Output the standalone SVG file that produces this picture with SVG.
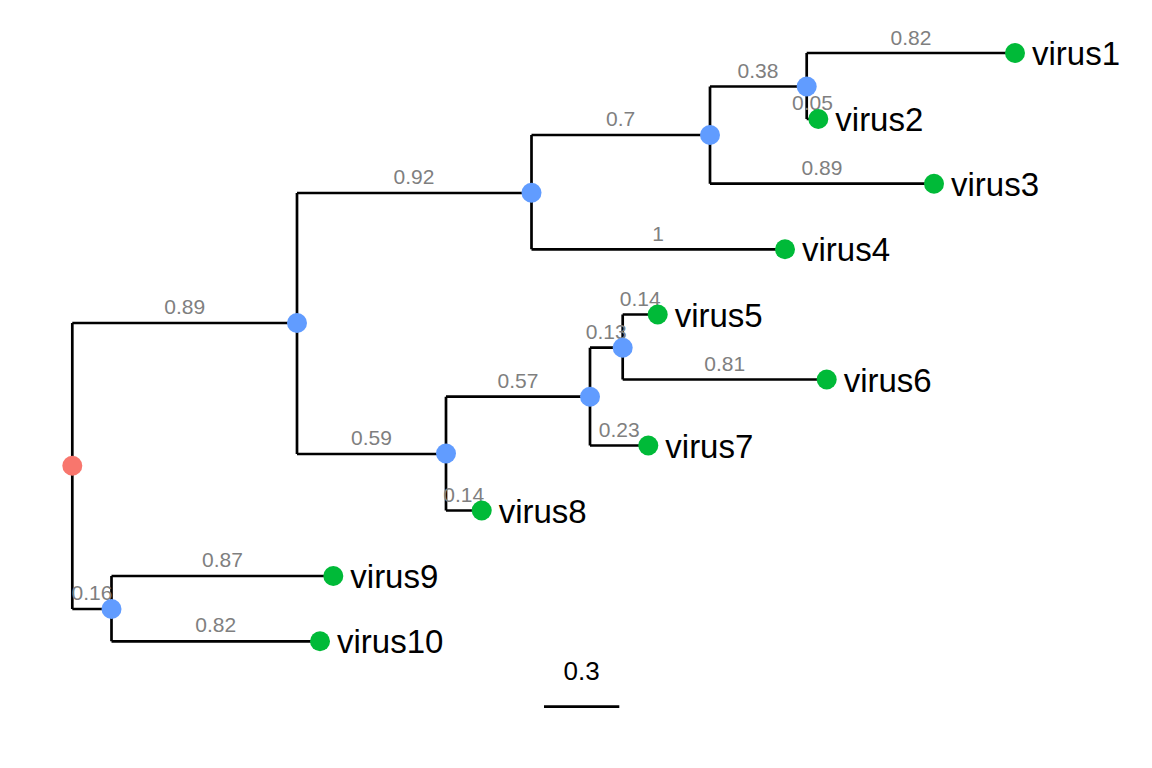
<svg xmlns="http://www.w3.org/2000/svg" width="1152" height="768" viewBox="0 0 1152 768">
<style>
.br{fill:none;stroke:#000;stroke-width:2.7;stroke-linecap:butt;stroke-linejoin:miter}
.el{font-family:"Liberation Sans",Arial,sans-serif;font-size:21px;fill:#7f7f7f;text-anchor:middle}
.tl{font-family:"Liberation Sans",Arial,sans-serif;font-size:33px;fill:#000}
.root{fill:#F8766D}
.inner{fill:#619CFF}
.tip{fill:#00BA38}
</style>
<rect width="1152" height="768" fill="#fff"/>
<g id="connectors">
<path class="br" d="M72.3,323 V609 M72.3,323 H297 M72.3,609 H111.5"/>
<path class="br" d="M297,193 V454 M297,193 H531.5 M297,454 H446"/>
<path class="br" d="M531.5,135 V249.3 M531.5,135 H710 M531.5,249.3 H785"/>
<path class="br" d="M710,86.5 V183.7 M710,86.5 H806.7 M710,183.7 H934"/>
<path class="br" d="M806.7,53 V119 M806.7,53 H1015 M806.7,119 H818.3"/>
<path class="br" d="M446,396.7 V510.5 M446,396.7 H590 M446,510.5 H481.7"/>
<path class="br" d="M590,347.7 V445.5 M590,347.7 H622.7 M590,445.5 H648.3"/>
<path class="br" d="M622.7,314.5 V379.5 M622.7,314.5 H657.7 M622.7,379.5 H826.7"/>
<path class="br" d="M111.5,576 V641.3 M111.5,576 H333.3 M111.5,641.3 H320"/>
</g>
<g id="edge-labels">
<text class="el" x="184.7" y="314">0.89</text>
<text class="el" x="414" y="184">0.92</text>
<text class="el" x="620.7" y="126">0.7</text>
<text class="el" x="758" y="77.5">0.38</text>
<text class="el" x="911" y="44.5">0.82</text>
<text class="el" x="812.5" y="110">0.05</text>
<text class="el" x="822" y="175">0.89</text>
<text class="el" x="658" y="240.5">1</text>
<text class="el" x="371.5" y="445">0.59</text>
<text class="el" x="518" y="388">0.57</text>
<text class="el" x="606.3" y="339">0.13</text>
<text class="el" x="640.2" y="305.5">0.14</text>
<text class="el" x="724.7" y="370.5">0.81</text>
<text class="el" x="619.2" y="436.5">0.23</text>
<text class="el" x="463.8" y="501.5">0.14</text>
<text class="el" x="91.9" y="600">0.16</text>
<text class="el" x="222.4" y="567">0.87</text>
<text class="el" x="215.7" y="632.3">0.82</text>
</g>
<g id="root"><circle class="root" cx="72.3" cy="465.7" r="10"/></g>
<g id="n1"><circle class="inner" cx="297" cy="323" r="10"/></g>
<g id="n2"><circle class="inner" cx="531.5" cy="192.7" r="10"/></g>
<g id="n3"><circle class="inner" cx="710" cy="135" r="10"/></g>
<g id="n4"><circle class="inner" cx="806.7" cy="86.5" r="10"/></g>
<g id="n5"><circle class="inner" cx="446" cy="453.5" r="10"/></g>
<g id="n6"><circle class="inner" cx="590" cy="396.7" r="10"/></g>
<g id="n7"><circle class="inner" cx="622.7" cy="347.7" r="10"/></g>
<g id="n8"><circle class="inner" cx="111.5" cy="609" r="10"/></g>
<g id="virus1"><circle class="tip" cx="1015" cy="53" r="10"/><text class="tl" x="1032" y="65">virus1</text></g>
<g id="virus2"><circle class="tip" cx="818.3" cy="119" r="10"/><text class="tl" x="835.3" y="131">virus2</text></g>
<g id="virus3"><circle class="tip" cx="934" cy="183.7" r="10"/><text class="tl" x="951" y="195.7">virus3</text></g>
<g id="virus4"><circle class="tip" cx="785" cy="249.3" r="10"/><text class="tl" x="802" y="261.3">virus4</text></g>
<g id="virus5"><circle class="tip" cx="657.7" cy="314.5" r="10"/><text class="tl" x="674.7" y="326.5">virus5</text></g>
<g id="virus6"><circle class="tip" cx="826.7" cy="379.5" r="10"/><text class="tl" x="843.7" y="391.5">virus6</text></g>
<g id="virus7"><circle class="tip" cx="648.3" cy="445.5" r="10"/><text class="tl" x="665.3" y="457.5">virus7</text></g>
<g id="virus8"><circle class="tip" cx="481.7" cy="510.5" r="10"/><text class="tl" x="498.7" y="522.5">virus8</text></g>
<g id="virus9"><circle class="tip" cx="333.3" cy="576" r="10"/><text class="tl" x="350.3" y="588">virus9</text></g>
<g id="virus10"><circle class="tip" cx="320" cy="641.3" r="10"/><text class="tl" x="337" y="653.3">virus10</text></g>
<g id="scale">
<line x1="544" y1="706.7" x2="619.3" y2="706.7" stroke="#000" stroke-width="2.7"/>
<text x="581.7" y="680" font-family="Liberation Sans, Arial, sans-serif" font-size="26" text-anchor="middle" fill="#000">0.3</text>
</g>
</svg>
